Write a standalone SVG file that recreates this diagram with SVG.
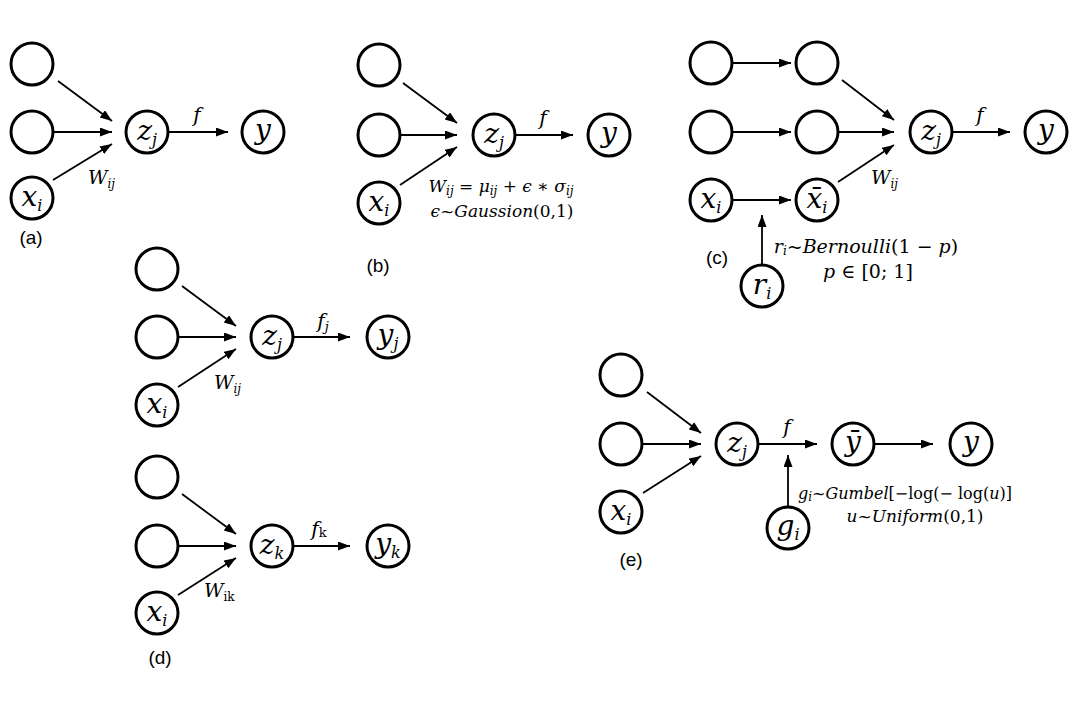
<svg xmlns="http://www.w3.org/2000/svg" width="1080" height="706" viewBox="0 0 1080 706">
<style>
  .node circle { fill: #fff; stroke: #000; stroke-width: 3; }
  .edges line { stroke: #000; stroke-width: 1.8; marker-end: url(#ah); }
  .m { font-family: "DejaVu Serif", "Liberation Serif", serif; font-style: italic; fill: #000; }
  .nl { font-size: 28px; text-anchor: middle; }
  .el { font-size: 20px; text-anchor: middle; }
  .wl { font-size: 19px; }
  .fm { font-size: 17px; text-anchor: middle; }
  .up { font-style: normal; }
  .lbl { font-family: "Liberation Sans", "Open Sans", sans-serif; font-size: 19px; text-anchor: middle; fill: #000; }
</style>
<defs>
  <marker id="ah" markerUnits="userSpaceOnUse" markerWidth="13" markerHeight="10" refX="12" refY="4.5" orient="auto">
    <path d="M0,0 L12,4.5 L0,9 z" fill="#000"/>
  </marker>
</defs>
<rect width="1080" height="706" fill="#fff"/>

<g id="connectors" class="edges">
  <!-- (a) -->
  <line x1="58" y1="81" x2="112" y2="121"/>
  <line x1="54" y1="132" x2="112" y2="132"/>
  <line x1="53" y1="180" x2="112" y2="144"/>
  <line x1="169" y1="132" x2="228" y2="132"/>
  <!-- (b) -->
  <line x1="403" y1="83" x2="457" y2="123"/>
  <line x1="401" y1="135" x2="457" y2="135"/>
  <line x1="400" y1="185" x2="457" y2="147"/>
  <line x1="516" y1="135" x2="573" y2="135"/>
  <!-- (c) -->
  <line x1="733" y1="63" x2="791" y2="63"/>
  <line x1="733" y1="132" x2="791" y2="132"/>
  <line x1="733" y1="200" x2="791" y2="200"/>
  <line x1="842" y1="80" x2="894" y2="120"/>
  <line x1="839" y1="132" x2="894" y2="132"/>
  <line x1="838" y1="182" x2="894" y2="145"/>
  <line x1="953" y1="132" x2="1010" y2="132"/>
  <line x1="762" y1="264" x2="762" y2="215"/>
  <!-- (d) top -->
  <line x1="182" y1="286" x2="236" y2="326"/>
  <line x1="179" y1="337" x2="236" y2="337"/>
  <line x1="178" y1="387" x2="236" y2="349"/>
  <line x1="294" y1="337" x2="350" y2="337"/>
  <!-- (d) bottom -->
  <line x1="182" y1="494" x2="236" y2="534"/>
  <line x1="179" y1="546" x2="236" y2="546"/>
  <line x1="178" y1="595" x2="236" y2="558"/>
  <line x1="294" y1="546" x2="350" y2="546"/>
  <!-- (e) -->
  <line x1="647" y1="392" x2="701" y2="433"/>
  <line x1="643" y1="444" x2="701" y2="444"/>
  <line x1="643" y1="493" x2="701" y2="456"/>
  <line x1="759" y1="444" x2="817" y2="444"/>
  <line x1="875" y1="444" x2="933" y2="444"/>
  <line x1="788" y1="506" x2="788" y2="455"/>
</g>

<!-- (a) nodes -->
<g id="a_n1" class="node"><circle cx="32" cy="64" r="21"/></g>
<g id="a_n2" class="node"><circle cx="32" cy="132" r="21"/></g>
<g id="a_xi" class="node"><circle cx="32" cy="198" r="21"/><text class="m nl" x="32" y="206">x<tspan font-size="16" dy="5">i</tspan></text></g>
<g id="a_zj" class="node"><circle cx="147" cy="132" r="21"/><text class="m nl" x="147" y="140">z<tspan font-size="16" dy="5">j</tspan></text></g>
<g id="a_y" class="node"><circle cx="263" cy="132" r="21"/><text class="m nl" x="263" y="139">y</text></g>
<g id="a_labels">
  <text class="m el" x="197" y="122">f</text>
  <text class="m wl" x="88" y="184">W<tspan font-size="12" dy="4">ij</tspan></text>
  <text class="lbl" x="31" y="244">(a)</text>
</g>

<!-- (b) nodes -->
<g id="b_n1" class="node"><circle cx="379" cy="65" r="21"/></g>
<g id="b_n2" class="node"><circle cx="379" cy="135" r="21"/></g>
<g id="b_xi" class="node"><circle cx="379" cy="203" r="21"/><text class="m nl" x="379" y="211">x<tspan font-size="16" dy="5">i</tspan></text></g>
<g id="b_zj" class="node"><circle cx="494" cy="135" r="21"/><text class="m nl" x="494" y="143">z<tspan font-size="16" dy="5">j</tspan></text></g>
<g id="b_y" class="node"><circle cx="609" cy="135" r="21"/><text class="m nl" x="609" y="142">y</text></g>
<g id="b_labels">
  <text class="m el" x="543" y="125">f</text>
  <text class="m fm" x="501" y="192">W<tspan font-size="12" dy="3">ij</tspan><tspan dy="-3" class="up"> = </tspan>μ<tspan font-size="12" dy="3">ij</tspan><tspan dy="-3" class="up"> + </tspan>ϵ<tspan class="up"> ∗ </tspan>σ<tspan font-size="12" dy="3">ij</tspan></text>
  <text class="m fm" x="502" y="217">ϵ<tspan class="up">~</tspan>Gaussion<tspan class="up">(0,1)</tspan></text>
  <text class="lbl" x="378" y="272">(b)</text>
</g>

<!-- (c) nodes -->
<g id="c_n1" class="node"><circle cx="711" cy="63" r="21"/></g>
<g id="c_n2" class="node"><circle cx="711" cy="132" r="21"/></g>
<g id="c_xi" class="node"><circle cx="711" cy="200" r="21"/><text class="m nl" x="711" y="208">x<tspan font-size="16" dy="5">i</tspan></text></g>
<g id="c_m1" class="node"><circle cx="817" cy="63" r="21"/></g>
<g id="c_m2" class="node"><circle cx="817" cy="132" r="21"/></g>
<g id="c_xbar" class="node"><circle cx="817" cy="200" r="21"/><text class="m nl" x="817" y="208">x̄<tspan font-size="16" dy="5">i</tspan></text></g>
<g id="c_zj" class="node"><circle cx="931" cy="132" r="21"/><text class="m nl" x="931" y="140">z<tspan font-size="16" dy="5">j</tspan></text></g>
<g id="c_y" class="node"><circle cx="1046" cy="132" r="21"/><text class="m nl" x="1046" y="139">y</text></g>
<g id="c_ri" class="node"><circle cx="762" cy="286" r="21"/><text class="m nl" x="762" y="294">r<tspan font-size="16" dy="5">i</tspan></text></g>
<g id="c_labels">
  <text class="m el" x="980" y="122">f</text>
  <text class="m wl" x="871" y="184">W<tspan font-size="12" dy="4">ij</tspan></text>
  <text class="m fm" x="866" y="253" style="font-size:19px">r<tspan font-size="12" dy="2">i</tspan><tspan dy="-2" class="up">~</tspan>Bernoulli<tspan class="up">(1 − </tspan>p<tspan class="up">)</tspan></text>
  <text class="m fm" x="868" y="278" style="font-size:19px">p<tspan class="up"> ∈ [0; 1]</tspan></text>
  <text class="lbl" x="717" y="264">(c)</text>
</g>

<!-- (d) top nodes -->
<g id="d1_n1" class="node"><circle cx="157" cy="269" r="21"/></g>
<g id="d1_n2" class="node"><circle cx="157" cy="337" r="21"/></g>
<g id="d1_xi" class="node"><circle cx="157" cy="405" r="21"/><text class="m nl" x="157" y="413">x<tspan font-size="16" dy="5">i</tspan></text></g>
<g id="d1_zj" class="node"><circle cx="272" cy="337" r="21"/><text class="m nl" x="272" y="345">z<tspan font-size="16" dy="5">j</tspan></text></g>
<g id="d1_yj" class="node"><circle cx="388" cy="337" r="21"/><text class="m nl" x="388" y="344">y<tspan font-size="16" dy="5">j</tspan></text></g>
<g id="d1_labels">
  <text class="m el" x="323" y="328">f<tspan font-size="13" dy="3">j</tspan></text>
  <text class="m wl" x="214" y="389">W<tspan font-size="12" dy="4">ij</tspan></text>
</g>

<!-- (d) bottom nodes -->
<g id="d2_n1" class="node"><circle cx="157" cy="477" r="21"/></g>
<g id="d2_n2" class="node"><circle cx="157" cy="546" r="21"/></g>
<g id="d2_xi" class="node"><circle cx="157" cy="613" r="21"/><text class="m nl" x="157" y="621">x<tspan font-size="16" dy="5">i</tspan></text></g>
<g id="d2_zk" class="node"><circle cx="272" cy="546" r="21"/><text class="m nl" x="272" y="554">z<tspan font-size="16" dy="5">k</tspan></text></g>
<g id="d2_yk" class="node"><circle cx="388" cy="546" r="21"/><text class="m nl" x="388" y="553">y<tspan font-size="16" dy="5">k</tspan></text></g>
<g id="d2_labels">
  <text class="m el" x="319" y="536">f<tspan font-size="13" dy="1" class="up">k</tspan></text>
  <text class="m wl" x="204" y="597">W<tspan font-size="12" dy="4" class="up">ik</tspan></text>
  <text class="lbl" x="160" y="664">(d)</text>
</g>

<!-- (e) nodes -->
<g id="e_n1" class="node"><circle cx="621" cy="375" r="21"/></g>
<g id="e_n2" class="node"><circle cx="621" cy="444" r="21"/></g>
<g id="e_xi" class="node"><circle cx="621" cy="512" r="21"/><text class="m nl" x="621" y="520">x<tspan font-size="16" dy="5">i</tspan></text></g>
<g id="e_zj" class="node"><circle cx="737" cy="444" r="21"/><text class="m nl" x="737" y="452">z<tspan font-size="16" dy="5">j</tspan></text></g>
<g id="e_ybar" class="node"><circle cx="853" cy="444" r="21"/><text class="m nl" x="853" y="451">ȳ</text></g>
<g id="e_y" class="node"><circle cx="971" cy="444" r="21"/><text class="m nl" x="971" y="451">y</text></g>
<g id="e_gi" class="node"><circle cx="788" cy="528" r="21"/><text class="m nl" x="788" y="535">g<tspan font-size="16" dy="5">i</tspan></text></g>
<g id="e_labels">
  <text class="m el" x="787" y="434">f</text>
  <text class="m fm" x="905" y="499" style="font-size:16px">g<tspan font-size="12" dy="2">i</tspan><tspan dy="-2" class="up">~</tspan>Gumbel<tspan class="up">[−log(− log(</tspan>u<tspan class="up">)]</tspan></text>
  <text class="m fm" x="915" y="522">u<tspan class="up">~</tspan>Uniform<tspan class="up">(0,1)</tspan></text>
  <text class="lbl" x="631" y="566">(e)</text>
</g>
</svg>
